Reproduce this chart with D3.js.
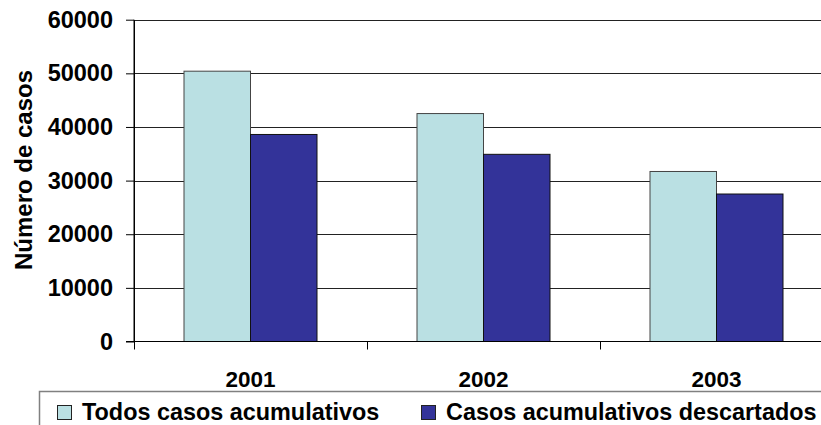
<!DOCTYPE html>
<html><head><meta charset="utf-8">
<script src="https://cdn.jsdelivr.net/npm/d3@7"></script>
<style>
html,body{margin:0;padding:0;background:#fff;}
svg{display:block;font-family:"Liberation Sans",Arial,sans-serif;font-weight:bold;}
text{font-weight:bold;}
</style></head>
<body>
<svg id="c" width="821" height="425"></svg>
<script>
const years = ["2001","2002","2003"];
const seriesNames = ["Todos casos acumulativos","Casos acumulativos descartados"];
const todos = [50400, 42500, 31700];
const descartados = [38600, 34900, 27500];
const yTicks = [0,10000,20000,30000,40000,50000,60000];
const colors = ["#BAE0E3","#333399"];

const svg = d3.select("#c");
const L = 134, R = 833, T = 19.7, B = 341.5;
const y = d3.scaleLinear().domain([0,60000]).range([B,T]);
const pi = 100/233;
const x = d3.scaleBand().domain(years).range([L,R]).paddingInner(pi).paddingOuter(pi/2);
const x1 = d3.scaleBand().domain([0,1]).range([0,x.bandwidth()]);
const data = years.map((yr,i)=>({yr, vals:[todos[i], descartados[i]]}));

// gridlines
svg.append("g").selectAll("line").data(yTicks.filter(d=>d>0)).join("line")
  .attr("x1",L).attr("x2",R).attr("y1",d=>Math.round(y(d))+0.5).attr("y2",d=>Math.round(y(d))+0.5)
  .attr("stroke","#222").attr("stroke-width",1);

// y axis
const ya = svg.append("g").attr("transform",`translate(${L},0)`)
  .call(d3.axisLeft(y).tickValues(yTicks).tickSize(8).tickPadding(13).tickSizeOuter(0).tickFormat(d3.format("d")));
ya.attr("font-family",null).attr("font-size",null);
ya.select(".domain").attr("stroke","#000");
ya.selectAll(".tick line").attr("stroke","#000");
ya.selectAll(".tick text").attr("font-size",23.5).attr("fill","#000");

// bars
const g = svg.append("g").selectAll("g").data(data).join("g")
  .attr("transform",d=>`translate(${x(d.yr)},0)`);
g.selectAll("rect").data(d=>d.vals.map((v,k)=>({v,k}))).join("rect")
  .attr("x",d=>x1(d.k)).attr("width",x1.bandwidth())
  .attr("y",d=>y(d.v)).attr("height",d=>B-y(d.v))
  .attr("fill",d=>colors[d.k]).attr("stroke",d=>d.k===0?"#444":"#111").attr("stroke-width",1);

// x axis
svg.append("line").attr("x1",L-8).attr("x2",R).attr("y1",B).attr("y2",B).attr("stroke","#000");
const step = x.step();
svg.append("g").selectAll("line").data(years.concat(["end"])).join("line")
  .attr("x1",(d,i)=>Math.round(L+i*step)+0.5).attr("x2",(d,i)=>Math.round(L+i*step)+0.5)
  .attr("y1",B).attr("y2",B+8).attr("stroke","#000");
svg.append("line").attr("x1",L).attr("x2",L).attr("y1",T).attr("y2",B).attr("stroke","#000");
svg.append("g").selectAll("text").data(years).join("text")
  .attr("x",d=>x(d)+x.bandwidth()/2).attr("y",387).attr("text-anchor","middle")
  .attr("font-size",22.5).attr("fill","#000").text(d=>d);

// y title
svg.append("text").attr("transform",`translate(32,170) rotate(-90)`)
  .attr("text-anchor","middle").attr("font-size",24).attr("fill","#000").text("Número de casos");

// legend
svg.append("rect").attr("x",39.5).attr("y",391.5).attr("width",820).attr("height",60)
  .attr("fill","none").attr("stroke","#808080").attr("stroke-width",1.5);
const legX = [57, 421];
const lg = svg.append("g").selectAll("g").data(seriesNames).join("g")
  .attr("transform",(d,i)=>`translate(${legX[i]},0)`);
lg.append("rect").attr("x",0.5).attr("y",405.5).attr("width",14).attr("height",14)
  .attr("fill",(d,i)=>colors[i]).attr("stroke","#222");
lg.append("text").attr("x",25).attr("y",420).attr("font-size",23.4).attr("fill","#000").text(d=>d);
</script>
</body></html>
